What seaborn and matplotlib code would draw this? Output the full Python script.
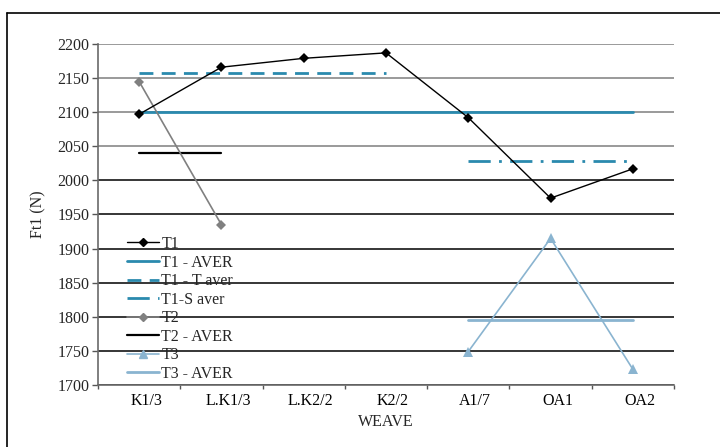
import matplotlib
matplotlib.use("Agg")
import matplotlib.pyplot as plt
import matplotlib.transforms as mtransforms
import seaborn as sns
import pandas as pd
from matplotlib.lines import Line2D

sns.set_theme(style="white")
plt.rcParams['font.family'] = ['Liberation Serif', 'DejaVu Serif']

categories = ["K1/3", "L.K1/3", "L.K2/2", "K2/2", "A1/7", "OA1", "OA2"]
t1 = [2097, 2166, 2179, 2187, 2092, 1974, 2017]
t1_aver = [2101] * 7
t1_t_cats = ["K1/3", "L.K1/3", "L.K2/2", "K2/2"]
t1_t_aver = [2157, 2157, 2157, 2157]
t1_s_cats = ["A1/7", "OA1", "OA2"]
t1_s_aver = [2028, 2028, 2028]
t2_cats = ["K1/3", "L.K1/3"]
t2 = [2145, 1935]
t2_aver = [2040, 2040]
t3_cats = ["A1/7", "OA1", "OA2"]
t3 = [1749, 1915, 1723]
t3_aver = [1796, 1796, 1796]
yticks = [1700, 1750, 1800, 1850, 1900, 1950, 2000, 2050, 2100, 2150, 2200]

def pos(cats):
    return [categories.index(c) for c in cats]

fig = plt.figure(figsize=(7.2, 4.47), dpi=100)
ax = fig.add_axes([98/720, 1-385/447, (674-98)/720, (385-44)/447])

# gridlines
for v in yticks:
    ax.axhline(v, color='#7f7f7f' if v >= 2050 else '#000000', lw=1.1, zorder=0)

teal = '#2a8aae'
lblue = '#8ab4d0'
fs = 11.5

def dline(x, y, **kw):
    df = pd.DataFrame({"x": x, "y": y})
    sns.lineplot(data=df, x="x", y="y", ax=ax, legend=False, **kw)

dline(list(range(7)), t1_aver, color=teal, lw=2.0, zorder=2)
dline(pos(t1_t_cats), t1_t_aver, color=teal, lw=2.0, dashes=(5, 3), zorder=2)
dline(pos(t1_s_cats), t1_s_aver, color=teal, lw=2.0, dashes=(8, 3, 1, 3), zorder=2)
dline(pos(t2_cats), t2_aver, color='black', lw=1.6, zorder=2)
dline(pos(t3_cats), t3_aver, color=lblue, lw=2.0, zorder=2)
dline(pos(t3_cats), t3, color=lblue, lw=1.2, marker='^', markersize=7, markeredgewidth=0, zorder=3)
dline(pos(t2_cats), t2, color='#808080', lw=1.2, marker='D', markersize=5.5, markeredgewidth=0, zorder=3)
dline(list(range(7)), t1, color='black', lw=1.0, marker='D', markersize=5.5, markeredgewidth=0, zorder=4)

ax.set_xlim(-0.5, 6.5)
ax.set_ylim(1700, 2200)
ax.set_yticks(yticks)
ax.set_yticklabels([str(v) for v in yticks], fontsize=fs)
ax.set_xticks(range(7))
ax.set_xticklabels(categories, fontsize=fs)
ax.set_xticks([i - 0.5 for i in range(8)], minor=True)
ax.tick_params(axis='x', which='major', length=0, pad=6, colors='black')
ax.tick_params(axis='x', which='minor', length=3, width=1, color='#555555', direction='out', bottom=True)
ax.tick_params(axis='y', which='major', length=4, width=1, color='#555555', direction='out', left=True, pad=2)
offset = mtransforms.ScaledTranslation(7/100, 0, fig.dpi_scale_trans)
for lab in ax.get_xticklabels():
    lab.set_transform(lab.get_transform() + offset)
for s in ['top', 'right']:
    ax.spines[s].set_visible(False)
for s in ['left', 'bottom']:
    ax.spines[s].set_color('#6a6a6a')
    ax.spines[s].set_linewidth(1.2)

ax.set_xlabel("WEAVE", fontsize=fs, labelpad=3)
ax.set_ylabel("Ft1 (N)", fontsize=fs, labelpad=8)

handles = [
    Line2D([], [], color='black', lw=1.0, marker='D', markersize=4.5),
    Line2D([], [], color=teal, lw=2.0),
    Line2D([], [], color=teal, lw=2.0, dashes=(5, 3)),
    Line2D([], [], color=teal, lw=2.0, dashes=(8, 3, 1, 3)),
    Line2D([], [], color='#808080', lw=1.2, marker='D', markersize=4.5),
    Line2D([], [], color='black', lw=1.6),
    Line2D([], [], color=lblue, lw=1.2, marker='^', markersize=6),
    Line2D([], [], color=lblue, lw=2.0),
]
labels = ["T1", "T1 - AVER", "T1 - T aver", "T1-S aver", "T2", "T2 - AVER", "T3", "T3 - AVER"]
leg = ax.legend(handles, labels, loc='upper left', bbox_to_anchor=(127/720, 1-236/447),
                bbox_transform=fig.transFigure, frameon=False, fontsize=fs,
                handlelength=2.0, handletextpad=0.15, labelspacing=0.16, borderpad=0, borderaxespad=0)

# figure border (left and top)
fig.add_artist(Line2D([7/720, 7/720], [0, 1-13/447], transform=fig.transFigure, color='black', lw=1.2))
fig.add_artist(Line2D([7/720, 1], [1-13/447, 1-13/447], transform=fig.transFigure, color='black', lw=1.2))

fig.savefig("out.png", dpi=100)
